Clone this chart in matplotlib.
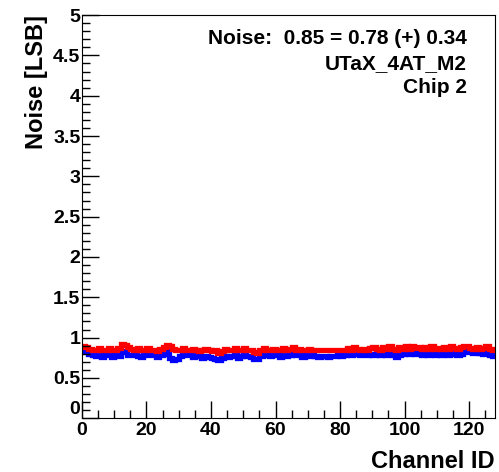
import numpy as np
import matplotlib.pyplot as plt
from matplotlib.ticker import MultipleLocator

# noise per channel
red_noise = [
    0.89, 0.88, 0.86, 0.85, 0.84, 0.87, 0.84, 0.85, 0.87, 0.84,
    0.85, 0.87, 0.92, 0.91, 0.88, 0.86, 0.85, 0.87, 0.84, 0.85,
    0.87, 0.84, 0.85, 0.83, 0.86, 0.88, 0.91, 0.90, 0.86, 0.84,
    0.85, 0.87, 0.85, 0.84, 0.86, 0.84, 0.83, 0.84, 0.86, 0.84,
    0.83, 0.84, 0.81, 0.83, 0.86, 0.84, 0.85, 0.87, 0.84, 0.85,
    0.87, 0.85, 0.84, 0.82, 0.81, 0.85, 0.87, 0.85, 0.84, 0.86,
    0.85, 0.84, 0.87, 0.85, 0.86, 0.88, 0.85, 0.86, 0.84, 0.85,
    0.86, 0.85, 0.84, 0.85, 0.84, 0.85, 0.84, 0.85, 0.84, 0.85,
    0.84, 0.85, 0.87, 0.84, 0.88, 0.86, 0.85, 0.86, 0.85, 0.87,
    0.88, 0.86, 0.85, 0.88, 0.86, 0.89, 0.86, 0.85, 0.88, 0.86,
    0.89, 0.86, 0.90, 0.87, 0.88, 0.86, 0.88, 0.86, 0.89, 0.86,
    0.87, 0.86, 0.88, 0.86, 0.89, 0.87, 0.86, 0.88, 0.90, 0.89,
    0.87, 0.86, 0.88, 0.86, 0.87, 0.89, 0.86, 0.85]
blue_noise = [
    0.84, 0.83, 0.80, 0.78, 0.77, 0.78, 0.76, 0.78, 0.79, 0.76,
    0.78, 0.77, 0.83, 0.82, 0.79, 0.78, 0.79, 0.77, 0.76, 0.78,
    0.79, 0.78, 0.78, 0.76, 0.79, 0.80, 0.83, 0.75, 0.72, 0.74,
    0.77, 0.78, 0.79, 0.78, 0.76, 0.78, 0.77, 0.75, 0.77, 0.76,
    0.75, 0.73, 0.72, 0.75, 0.77, 0.76, 0.77, 0.79, 0.75, 0.77,
    0.78, 0.77, 0.76, 0.74, 0.73, 0.77, 0.79, 0.78, 0.77, 0.79,
    0.78, 0.76, 0.78, 0.77, 0.79, 0.80, 0.78, 0.79, 0.76, 0.78,
    0.77, 0.78, 0.77, 0.76, 0.77, 0.77, 0.76, 0.77, 0.77, 0.78,
    0.77, 0.78, 0.80, 0.79, 0.82, 0.80, 0.78, 0.79, 0.78, 0.80,
    0.79, 0.80, 0.78, 0.81, 0.79, 0.82, 0.78, 0.76, 0.79, 0.80,
    0.82, 0.80, 0.83, 0.80, 0.81, 0.79, 0.80, 0.78, 0.81, 0.79,
    0.80, 0.79, 0.81, 0.79, 0.82, 0.80, 0.79, 0.80, 0.83, 0.82,
    0.82, 0.81, 0.83, 0.81, 0.80, 0.81, 0.79, 0.77]
info_lines = ["Noise:  0.85 = 0.78 (+) 0.34", "UTaX_4AT_M2", "Chip 2"]

plt.rcParams['font.family'] = 'Liberation Sans'
plt.rcParams['font.weight'] = 'bold'

fig = plt.figure(figsize=(4.99, 4.72), dpi=100)
ax = fig.add_axes([0.164, 0.114, 0.828, 0.854])

edges = np.arange(len(red_noise) + 1)
ax.stairs(blue_noise, edges, color='#0000ff', linewidth=3.8, baseline=None)
ax.stairs(red_noise, edges, color='#ff0000', linewidth=3.8, baseline=None)

ax.set_xlim(0, 128)
ax.set_ylim(0, 5)
ax.xaxis.set_major_locator(MultipleLocator(20))
ax.xaxis.set_minor_locator(MultipleLocator(5))
ax.yaxis.set_minor_locator(MultipleLocator(0.1))
ax.set_yticks(np.arange(0, 5.01, 0.5))
ax.set_yticklabels(['0', '0.5', '1', '1.5', '2', '2.5', '3', '3.5', '4', '4.5', '5'])
ax.tick_params(which='major', direction='in', length=12, width=1, labelsize=14)
ax.tick_params(which='minor', direction='in', length=6, width=1)
ax.tick_params(axis='x', pad=3)
ax.tick_params(axis='y', pad=1)
# nudge the y "0" up a little, like the reference
ax.get_yticklabels()[0].set_verticalalignment('bottom')

ax.set_xlabel("Channel ID", fontsize=17, fontweight='bold', loc='right', labelpad=8)
ax.set_ylabel("Noise [LSB]", fontsize=17, fontweight='bold', loc='top', labelpad=4)

for i, line in enumerate(info_lines):
    ax.text(0.932, 0.941 - i * 0.06, line, transform=ax.transAxes, ha='right',
            va='center', fontsize=15, fontweight='bold')

fig.savefig("out.png", dpi=100)
